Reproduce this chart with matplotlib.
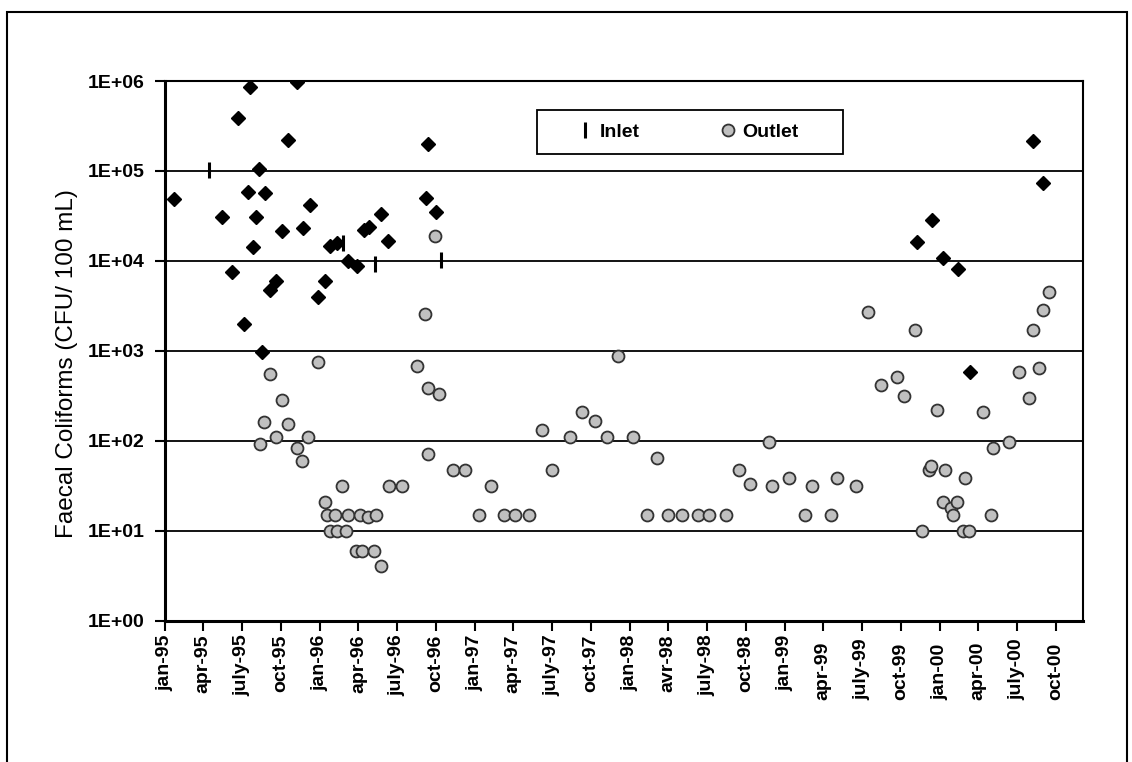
import matplotlib
matplotlib.use('Agg')
import matplotlib.pyplot as plt
import pandas as pd
from matplotlib import font_manager
from matplotlib.lines import Line2D
from matplotlib.patches import Rectangle
from matplotlib.ticker import NullLocator

# data (CFU / 100 mL)
raw_dates = ['1995-01-22', '1995-05-16', '1995-06-08', '1995-06-23', '1995-07-06',
             '1995-07-15', '1995-07-20', '1995-07-28', '1995-08-04', '1995-08-11',
             '1995-08-17', '1995-08-24', '1995-09-06', '1995-09-20', '1995-10-04',
             '1995-10-19', '1995-11-07', '1995-11-22', '1995-12-08', '1995-12-28',
             '1996-01-13', '1996-01-24', '1996-02-11', '1996-03-08', '1996-03-29',
             '1996-04-13', '1996-04-26', '1996-05-25', '1996-06-10', '1996-09-07',
             '1996-09-13', '1996-09-30', '1999-11-08', '1999-12-14', '2000-01-09',
             '2000-02-13', '2000-03-13', '2000-08-08', '2000-09-01']
raw_cfu = [48500, 30600, 7480, 389000, 2000,
           57600, 847000, 14100, 30600, 105000,
           966, 56600, 4720, 5900, 21200,
           220000, 978000, 22900, 41600, 3920,
           6000, 14800, 15700, 9840, 8800,
           22300, 23900, 32800, 16700, 50200,
           198000, 34800, 16400, 28300, 10800,
           8090, 579, 214000, 72600]

inlet_dates = ['1995-04-14', '1996-02-25', '1996-05-10', '1996-10-13']
inlet_cfu = [102000, 15700, 9190, 10200]

outlet_dates = ['1995-08-13', '1995-08-23', '1995-09-06', '1995-09-20', '1995-10-04',
                '1995-10-18', '1995-11-08', '1995-11-21', '1995-12-05', '1995-12-28',
                '1996-01-12', '1996-01-17', '1996-01-26', '1996-02-05', '1996-02-10',
                '1996-02-22', '1996-03-03', '1996-03-08', '1996-03-26', '1996-04-05',
                '1996-04-10', '1996-04-24', '1996-05-08', '1996-05-13', '1996-05-23',
                '1996-06-13', '1996-07-13', '1996-08-16', '1996-09-06', '1996-09-13',
                '1996-09-13', '1996-09-28', '1996-10-07', '1996-11-09', '1996-12-09',
                '1997-01-10', '1997-02-07', '1997-03-10', '1997-04-05', '1997-05-09',
                '1997-06-08', '1997-07-02', '1997-08-13', '1997-09-11', '1997-10-10',
                '1997-11-07', '1997-12-05', '1998-01-08', '1998-02-10', '1998-03-06',
                '1998-04-01', '1998-05-04', '1998-06-11', '1998-07-06', '1998-08-16',
                '1998-09-14', '1998-10-11', '1998-11-25', '1998-12-03', '1999-01-11',
                '1999-02-17', '1999-03-07', '1999-04-19', '1999-05-03', '1999-06-18',
                '1999-07-17', '1999-08-15', '1999-09-22', '1999-10-09', '1999-11-04',
                '1999-11-21', '1999-12-07', '1999-12-11', '1999-12-25', '2000-01-09',
                '2000-01-14', '2000-01-28', '2000-02-02', '2000-02-11', '2000-02-26',
                '2000-03-01', '2000-03-10', '2000-04-12', '2000-04-30', '2000-05-05',
                '2000-06-12', '2000-07-06', '2000-07-29', '2000-08-08', '2000-08-22',
                '2000-09-01', '2000-09-15']
outlet_cfu = [91, 160, 546, 110, 281,
              152, 82, 60, 110, 742,
              21, 15, 10, 15, 10,
              31, 10, 15, 6, 15,
              6, 14, 6, 15, 4,
              31, 31, 670, 2540, 381,
              71, 18800, 327, 47, 47,
              15, 31, 15, 15, 15,
              130, 47, 110, 206, 164,
              110, 870, 110, 15, 64,
              15, 15, 15, 15, 15,
              47, 33, 96, 31, 38,
              15, 31, 15, 38, 31,
              2670, 412, 513, 311, 1700,
              10, 47, 52, 217, 21,
              47, 18, 15, 21, 10,
              38, 10, 206, 15, 82,
              96, 579, 295, 1700, 637,
              2810, 4450]

tick_dates = pd.date_range('1995-01-01', '2000-10-01', freq='3MS')
tick_labels = ['jan-95', 'apr-95', 'july-95', 'oct-95',
               'jan-96', 'apr-96', 'july-96', 'oct-96',
               'jan-97', 'apr-97', 'july-97', 'oct-97',
               'jan-98', 'avr-98', 'july-98', 'oct-98',
               'jan-99', 'apr-99', 'july-99', 'oct-99',
               'jan-00', 'apr-00', 'july-00', 'oct-00']
y_ticks = [1, 10, 100, 1000, 10000, 100000, 1000000]
y_labels = ['1E+00', '1E+01', '1E+02', '1E+03', '1E+04', '1E+05', '1E+06']

names = {f.name for f in font_manager.fontManager.ttflist}
if 'Liberation Sans Narrow' in names:
    fam, fs, fs_lab = 'Liberation Sans Narrow', 15, 18
else:
    fam, fs, fs_lab = 'Liberation Sans', 14, 17.5
plt.rcParams['font.family'] = [fam, 'DejaVu Sans']

W, H = 1132, 762
fig = plt.figure(figsize=(W / 100, H / 100), dpi=100)
ax = fig.add_axes([165 / W, 1 - 620.5 / H, 918 / W, 539.5 / H])

ax.plot(pd.to_datetime(outlet_dates), outlet_cfu, 'o', ms=8.6, mfc='#c0c0c0',
        mec='#333333', mew=1.3, zorder=3)
ax.plot(pd.to_datetime(raw_dates), raw_cfu, 'D', ms=7.2, mfc='black',
        mec='black', zorder=4)
ax.plot(pd.to_datetime(inlet_dates), inlet_cfu, '|', ms=12, mec='black',
        mew=2.2, zorder=5)

ax.set_yscale('log')
ax.set_ylim(1, 1e6)
ax.set_yticks(y_ticks)
ax.set_yticklabels(y_labels)
ax.yaxis.set_minor_locator(NullLocator())
ax.set_xlim(pd.Timestamp('1995-01-01'), pd.Timestamp('2000-12-04'))
ax.set_xticks(tick_dates)
ax.set_xticklabels(tick_labels, rotation=90, va='top', ha='center')
ax.xaxis.set_minor_locator(NullLocator())

ax.grid(axis='y', color='black', lw=1.3)
ax.set_axisbelow(True)
ax.tick_params(direction='out', length=7, width=1.5, labelsize=fs)
ax.tick_params(axis='y', pad=8)
ax.tick_params(axis='x', pad=3)
for lab in ax.get_xticklabels() + ax.get_yticklabels():
    lab.set_fontweight('bold')
for side in ['left', 'bottom']:
    ax.spines[side].set_linewidth(2.2)
for side in ['top', 'right']:
    ax.spines[side].set_linewidth(1.5)

ax.set_ylabel('Faecal Coliforms (CFU/ 100 mL)', fontsize=fs_lab)
ax.yaxis.set_label_coords(-0.095, 0.4754)

# legend box drawn separately so it can be wider than its contents
ax.add_patch(Rectangle((537 / W, 1 - 154 / H), 306 / W, 44 / H,
                       transform=fig.transFigure, fc='white', ec='black',
                       lw=1.3, zorder=4.9, clip_on=False))
handles = [Line2D([], [], ls='none', marker='|', ms=12, mec='black', mew=2.2),
           Line2D([], [], ls='none', marker='o', ms=8.6, mfc='#c0c0c0',
                  mec='#333333', mew=1.3)]
leg = ax.legend(handles, ['Inlet', 'Outlet'], ncol=2, loc='center left',
                bbox_to_anchor=(0.447, 0.9055), frameon=False,
                prop={'weight': 'bold', 'size': fs}, borderaxespad=0,
                borderpad=0, columnspacing=4.0, handletextpad=0.27,
                handlelength=1.0)

fig.add_artist(Rectangle((7 / W, -0.1), 1120 / W, 1.1 - 12 / H,
                         transform=fig.transFigure, fill=False, lw=1.5,
                         ec='black'))

# the later labels sit lower in the original, ending near y=700 px
fig.canvas.draw()
renderer = fig.canvas.get_renderer()
for lab in ax.get_xticklabels()[17:]:
    y0 = lab.get_window_extent(renderer).y0
    lab.set_y((H - 700 - y0) / 539.5)

fig.savefig('out.png', dpi=100)
